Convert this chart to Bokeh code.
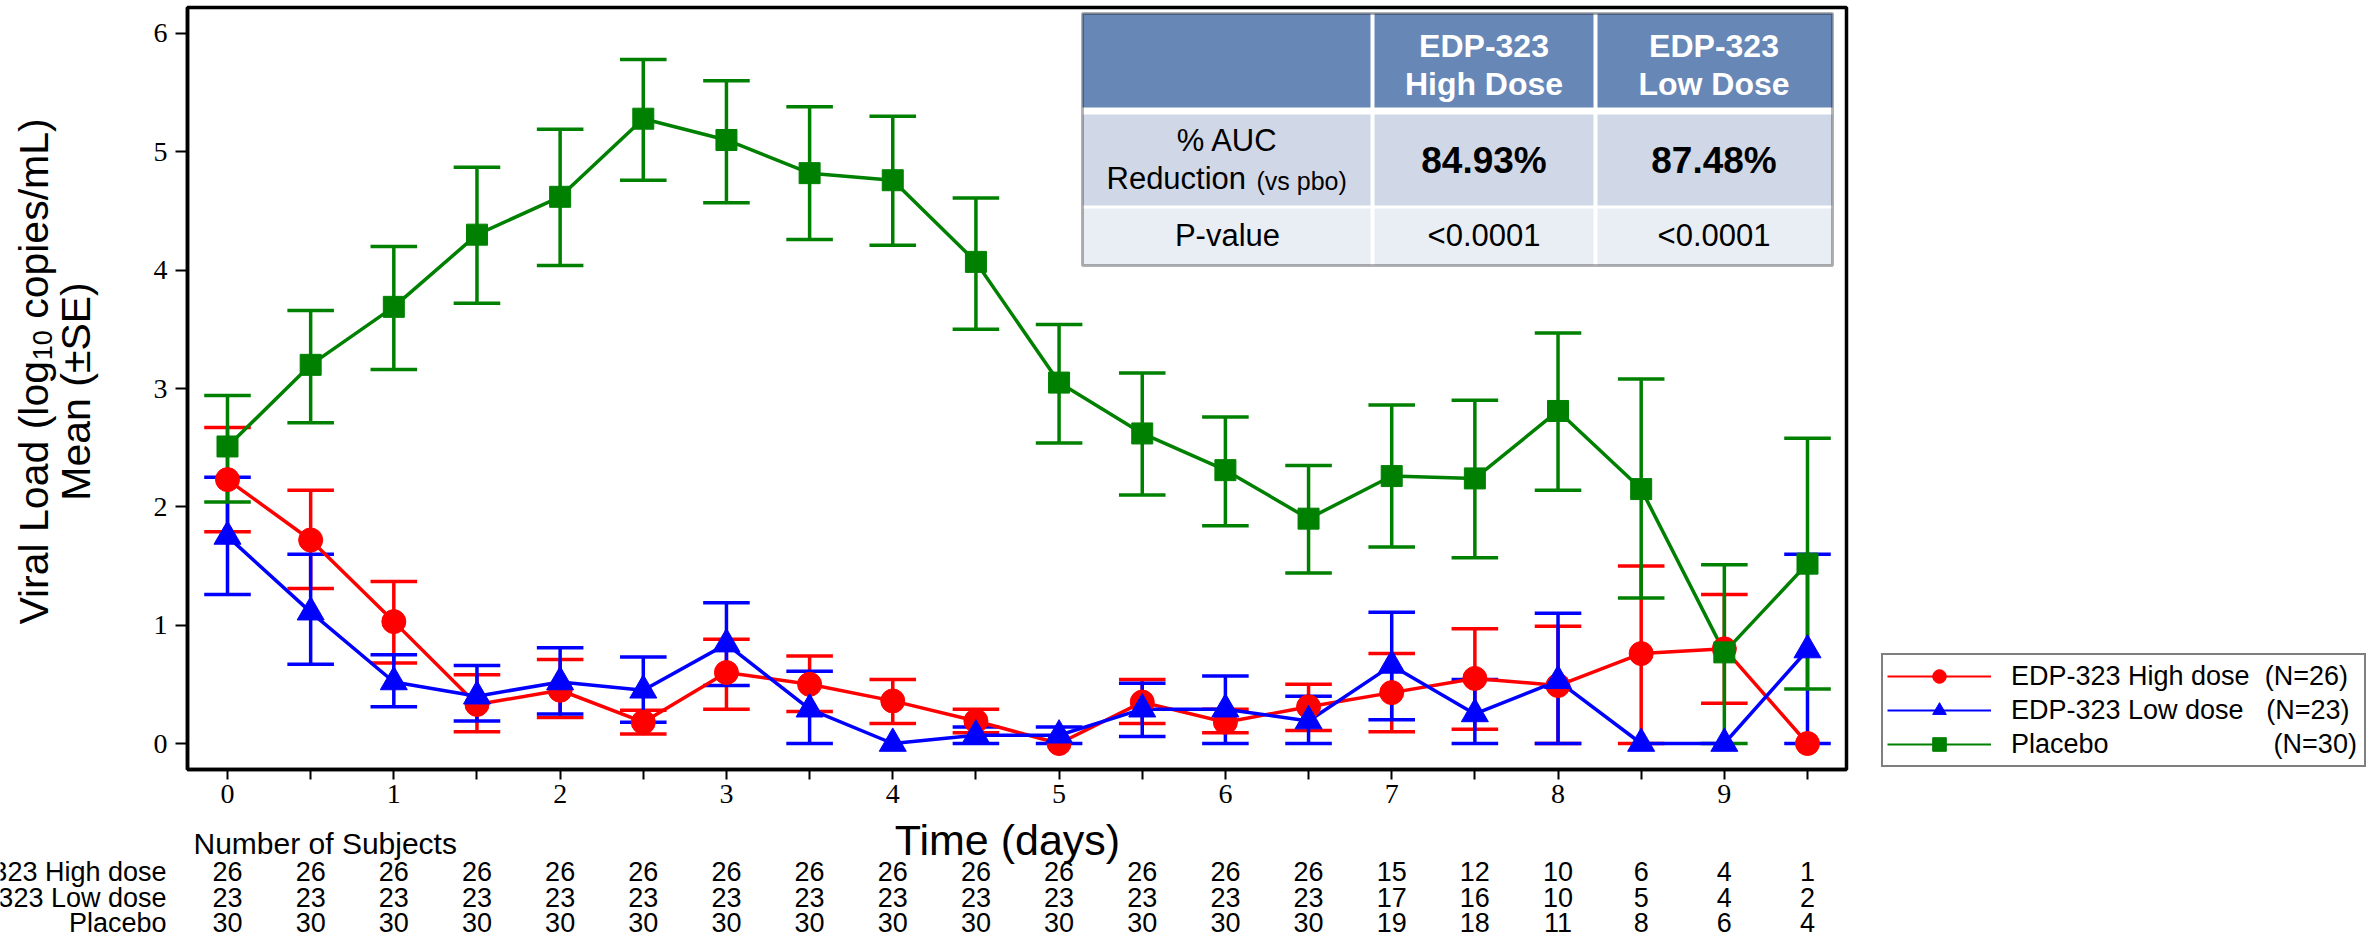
from bokeh.plotting import figure
from bokeh.layouts import row, column
from bokeh.models import (Range1d, FixedTicker, Label, LabelSet, ColumnDataSource,
                          Legend, LegendItem, BoxAnnotation)
from bokeh.embed import file_html
from bokeh.resources import INLINE
from bokeh.core.properties import value

# ---------------- data ----------------
times = [0, 0.5, 1, 1.5, 2, 2.5, 3, 3.5, 4, 4.5, 5, 5.5, 6, 6.5, 7, 7.5, 8, 8.5, 9, 9.5]
y_ticks = [0, 1, 2, 3, 4, 5, 6]

high_mean = [2.23, 1.72, 1.03, 0.33, 0.45, 0.18, 0.60, 0.50, 0.36, 0.19, 0.00, 0.35, 0.18, 0.31, 0.43, 0.55, 0.49, 0.76, 0.80, 0.00]
high_lo   = [1.79, 1.31, 0.68, 0.10, 0.22, 0.08, 0.29, 0.27, 0.17, 0.09, 0.00, 0.17, 0.09, 0.11, 0.10, 0.12, 0.00, 0.00, 0.34, 0.00]
high_hi   = [2.67, 2.14, 1.37, 0.58, 0.71, 0.28, 0.88, 0.74, 0.54, 0.29, 0.00, 0.54, 0.29, 0.50, 0.76, 0.97, 0.99, 1.50, 1.26, 0.00]

low_mean = [1.75, 1.11, 0.52, 0.40, 0.52, 0.45, 0.84, 0.29, 0.00, 0.07, 0.07, 0.29, 0.29, 0.19, 0.66, 0.25, 0.53, 0.00, 0.00, 0.79]
low_lo   = [1.26, 0.67, 0.31, 0.19, 0.25, 0.18, 0.49, 0.00, 0.00, 0.00, 0.00, 0.06, 0.00, 0.00, 0.20, 0.00, 0.00, 0.00, 0.00, 0.00]
low_hi   = [2.25, 1.60, 0.75, 0.66, 0.81, 0.73, 1.19, 0.61, 0.00, 0.14, 0.14, 0.51, 0.57, 0.40, 1.11, 0.54, 1.10, 0.00, 0.00, 1.60]

pbo_mean = [2.51, 3.20, 3.69, 4.30, 4.62, 5.28, 5.10, 4.82, 4.76, 4.07, 3.05, 2.62, 2.31, 1.90, 2.26, 2.24, 2.81, 2.15, 0.77, 1.52]
pbo_lo   = [2.04, 2.71, 3.16, 3.72, 4.04, 4.76, 4.57, 4.26, 4.21, 3.50, 2.54, 2.10, 1.84, 1.44, 1.66, 1.57, 2.14, 1.23, 0.00, 0.46]
pbo_hi   = [2.94, 3.66, 4.20, 4.87, 5.19, 5.78, 5.60, 5.38, 5.30, 4.61, 3.54, 3.13, 2.76, 2.35, 2.86, 2.90, 3.47, 3.08, 1.51, 2.58]

n_high = [26, 26, 26, 26, 26, 26, 26, 26, 26, 26, 26, 26, 26, 26, 15, 12, 10, 6, 4, 1]
n_low  = [23, 23, 23, 23, 23, 23, 23, 23, 23, 23, 23, 23, 23, 23, 17, 16, 10, 5, 4, 2]
n_pbo  = [30, 30, 30, 30, 30, 30, 30, 30, 30, 30, 30, 30, 30, 30, 19, 18, 11, 8, 6, 4]

series_names = ["EDP-323 High dose", "EDP-323 Low dose", "Placebo"]
series_n = ["(N=26)", "(N=23)", "(N=30)"]
row_names = ["EDP-323 High dose", "EDP-323 Low dose", "Placebo"]

table_header = [["EDP-323", "High Dose"], ["EDP-323", "Low Dose"]]
auc_values = ["84.93%", "87.48%"]
p_values = ["<0.0001", "<0.0001"]

# ---------------- styles / geometry (page pixels) ----------------
RED, BLUE, GREEN = "#FF0000", "#0000FF", "#008000"
SANS = "Liberation Sans"
SERIF = "Liberation Serif"
CAP = 0.14
LW = 3.5
LEGEND_PAD = [2, 3, 22]      # non-breaking spaces that push "(N=..)" to the right edge

TOTAL_W, TOTAL_H = 2369, 939
FL, FR, FT, FB = 187, 1846, 7, 769          # main frame edges
P_LEFT, P_RIGHT = 139, 1856                 # main figure extent
P_BOTTOM = 815                              # main figure bottom
XR = (-0.2405, 9.7345)
YR = (-0.2197, 6.2197)
BORDER_T = FT
BORDER_B = P_BOTTOM - FB


def strip_fig(w, h, xr=(0, 1), top=0, bottom=0):
    f = figure(width=w, height=h, output_backend="svg", toolbar_location=None,
               x_range=Range1d(*xr), y_range=Range1d(0, 1),
               x_axis_location=None, y_axis_location=None,
               min_border=0, min_border_left=0, min_border_right=0,
               min_border_top=top, min_border_bottom=bottom,
               background_fill_color="white", border_fill_color="white",
               outline_line_color=None)
    f.title.visible = False
    f.grid.visible = False
    return f


def lab(fig, x, y, text, size, bold=False, color="black", align="center", angle=0.0):
    fig.add_layout(Label(x=x, y=y, x_units="screen", y_units="screen", text=text,
                         text_align=align, text_baseline="middle", text_font=SANS,
                         text_font_size=size, text_font_style="bold" if bold else "normal",
                         text_color=color, angle=angle, level="overlay"))


# ---------------- main plot ----------------
p = figure(width=P_RIGHT - P_LEFT, height=P_BOTTOM, output_backend="svg",
           toolbar_location=None,
           x_range=Range1d(*XR), y_range=Range1d(*YR),
           min_border_left=FL - P_LEFT, min_border_right=P_RIGHT - FR,
           min_border_top=BORDER_T, min_border_bottom=BORDER_B,
           background_fill_color="white", border_fill_color="white")
p.title.visible = False
p.grid.visible = False
p.outline_line_color = "black"
p.outline_line_width = LW

for ax in (p.xaxis, p.yaxis):
    ax.axis_line_width = LW
    ax.axis_line_color = "black"
    ax.major_tick_line_width = 2
    ax.major_tick_line_color = "black"
    ax.major_tick_in = 0
    ax.minor_tick_line_color = None
    ax.major_label_text_font = SERIF
    ax.major_label_text_font_size = "28px"
    ax.major_label_text_color = "black"

p.xaxis.ticker = FixedTicker(ticks=times)
p.xaxis.major_label_overrides = {t: ("" if t % 1 else str(int(t))) for t in times}
p.xaxis.major_tick_out = 10
p.xaxis.major_label_standoff = 5
p.yaxis.ticker = FixedTicker(ticks=y_ticks)
p.yaxis.major_tick_out = 12
p.yaxis.major_label_standoff = 8


def err_source(lo, hi):
    idx = [i for i in range(len(times)) if hi[i] > lo[i]]
    return ColumnDataSource(dict(
        x=[times[i] for i in idx],
        lo=[lo[i] for i in idx],
        hi=[hi[i] for i in idx],
        xl=[times[i] - CAP for i in idx],
        xr=[times[i] + CAP for i in idx],
    ))


series = [
    (high_mean, high_lo, high_hi, RED, "circle", 24),
    (low_mean, low_lo, low_hi, BLUE, "triangle", 27),
    (pbo_mean, pbo_lo, pbo_hi, GREEN, "square", 21),
]

for mean, lo, hi, col, mk, sz in series:
    src = err_source(lo, hi)
    p.segment(x0="x", y0="lo", x1="x", y1="hi", source=src, line_color=col, line_width=LW)
    p.segment(x0="xl", y0="lo", x1="xr", y1="lo", source=src, line_color=col, line_width=LW)
    p.segment(x0="xl", y0="hi", x1="xr", y1="hi", source=src, line_color=col, line_width=LW)

for mean, lo, hi, col, mk, sz in series:
    p.line(times, mean, line_color=col, line_width=LW)

for mean, lo, hi, col, mk, sz in series:
    p.scatter(times, mean, marker=mk, size=sz, fill_color=col, line_color=col)


def sx(x):
    return x - FL


def sy(y):
    return FB - y


# inset table (inside the frame)
TL, TC1, TC2, TR = 1082, 1372, 1595, 1832
TT, HB, R2T, R2B, R3T, TBm = 13, 107, 114, 205, 208, 265


def box(l, r, t, b, fill, line=None, lw=0):
    p.add_layout(BoxAnnotation(left=sx(l), right=sx(r), top=sy(t), bottom=sy(b),
                               left_units="screen", right_units="screen",
                               top_units="screen", bottom_units="screen",
                               fill_color=fill, fill_alpha=1.0,
                               line_color=line, line_width=lw, level="annotation"))


box(TL, TR, TT, TBm, "white")
box(TL, TR, TT, HB, "#6787B7")
box(TL, TR, R2T, R2B, "#D0D8E8")
box(TL, TR, R3T, TBm, "#E9EDF4")
box(TC1 - 2, TC1 + 2, TT, TBm, "white")
box(TC2 - 2, TC2 + 2, TT, TBm, "white")
box(TL, TR, TT, TBm, None, "black", 3)

col_centers = [(TC1 + TC2) / 2, (TC2 + TR) / 2]
c0 = (TL + TC1) / 2
for cx, hdr, auc, pv in zip(col_centers, table_header, auc_values, p_values):
    lab(p, sx(cx), sy(45), hdr[0], "32px", bold=True, color="white")
    lab(p, sx(cx), sy(83), hdr[1], "32px", bold=True, color="white")
    lab(p, sx(cx), sy(160), auc, "37px", bold=True)
    lab(p, sx(cx), sy(235), pv, "31px")
lab(p, sx(c0), sy(140), "% AUC", "31px")
lab(p, sx(1106), sy(178), "Reduction", "31px", align="left")
lab(p, sx(1256), sy(180), "(vs pbo)", "25px", align="left")
lab(p, sx(c0), sy(235), "P-value", "31px")

# ---------------- left strip: y axis title ----------------
L = strip_fig(P_LEFT, P_BOTTOM, top=BORDER_T, bottom=BORDER_B)

ROT = 1.5707963
YL_FS = 41
SUB_FS = 27
y_bot = 371 + (6.447 * YL_FS + 1.112 * SUB_FS + 5.168 * YL_FS) / 2
y_sub = y_bot - 6.447 * YL_FS
y_rest = y_sub - 1.112 * SUB_FS - 0.278 * YL_FS
lab(L, 33, sy(y_bot), "Viral Load (log", "%dpx" % YL_FS, align="left", angle=ROT)
lab(L, 42, sy(y_sub), "10", "%dpx" % SUB_FS, align="left", angle=ROT)
lab(L, 33, sy(y_rest), "copies/mL)", "%dpx" % YL_FS, align="left", angle=ROT)
lab(L, 75, sy(391), "Mean (\u00b1SE)", "%dpx" % YL_FS, align="center", angle=ROT)

# ---------------- right strip: legend ----------------
R = strip_fig(TOTAL_W - P_RIGHT, P_BOTTOM, top=BORDER_T, bottom=BORDER_B)
items = []
for (mean, lo, hi, col, mk, sz), name, nn, pad in zip(series, series_names, series_n, LEGEND_PAD):
    # off-range stand-ins whose only job is to give the legend its glyphs
    lr = R.line(x=[-5, -4], y=[-5, -5], line_color=col, line_width=2)
    sr = R.scatter(x=[-5], y=[-5], marker=mk, size=14, fill_color=col, line_color=col)
    items.append(LegendItem(label=name + "\u00a0" * pad + nn, renderers=[lr, sr]))


def rx(x):
    return x - P_RIGHT


legend = Legend(items=items, location=(rx(1881), sy(767)),
                glyph_width=104, glyph_height=34, label_height=34, label_width=349,
                label_standoff=20, padding=4, spacing=0, margin=0,
                label_text_font=SANS, label_text_font_size="27px",
                label_text_line_height=1.0, label_text_color="black",
                border_line_color="black", border_line_width=2,
                background_fill_color="white", background_fill_alpha=1.0)
R.add_layout(legend)

# ---------------- bottom strip: x title and subject counts ----------------
scale = (FR - FL) / (XR[1] - XR[0])
B_H = TOTAL_H - P_BOTTOM
B = strip_fig(TOTAL_W, B_H,
              xr=(XR[0] - FL / scale, XR[1] + (TOTAL_W - FR) / scale))


def by(y):
    return TOTAL_H - y


lab(B, 1007, by(839), "Time (days)", "43px")
lab(B, 193, by(843), "Number of Subjects", "30px", align="left")
for name, counts, yy in zip(row_names, [n_high, n_low, n_pbo], [871, 897, 922]):
    lab(B, 166, by(yy), name, "27px", align="right")
    src = ColumnDataSource(dict(x=times, t=[str(c) for c in counts]))
    B.add_layout(LabelSet(x="x", y=by(yy), y_units="screen", text="t", source=src,
                          text_align="center", text_baseline="middle",
                          text_font=value(SANS), text_font_size=value("27px"),
                          text_color="black"))

layout = column(row(L, p, R), B)
open("out.html", "w").write(file_html(layout, INLINE))
